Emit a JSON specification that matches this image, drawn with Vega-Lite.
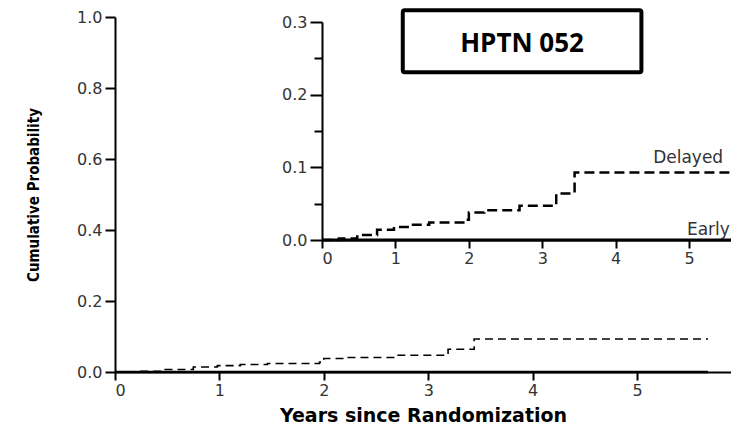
{
  "$schema": "https://vega.github.io/schema/vega-lite/v6.json",
  "width": 616,
  "height": 355,
  "autosize": {"type": "none"},
  "padding": {"left": 115, "top": 17, "right": 0, "bottom": 56},
  "background": "white",
  "config": {
    "view": {"stroke": null},
    "axis": {
      "grid": false,
      "domainColor": "black",
      "domainWidth": 2,
      "tickColor": "black",
      "tickWidth": 2,
      "labelFont": "DejaVu Sans",
      "labelFontSize": 16,
      "labelColor": "#333"
    }
  },
  "datasets": {
    "km": [
      {"group": "Delayed", "t": 0, "p": 0},
      {"group": "Delayed", "t": 0.23, "p": 0.002},
      {"group": "Delayed", "t": 0.48, "p": 0.007},
      {"group": "Delayed", "t": 0.75, "p": 0.014},
      {"group": "Delayed", "t": 0.98, "p": 0.018},
      {"group": "Delayed", "t": 1.2, "p": 0.021},
      {"group": "Delayed", "t": 1.46, "p": 0.024},
      {"group": "Delayed", "t": 1.96, "p": 0.028},
      {"group": "Delayed", "t": 2.0, "p": 0.038},
      {"group": "Delayed", "t": 2.21, "p": 0.041},
      {"group": "Delayed", "t": 2.69, "p": 0.047},
      {"group": "Delayed", "t": 3.19, "p": 0.064},
      {"group": "Delayed", "t": 3.44, "p": 0.093},
      {"group": "Delayed", "t": 5.68, "p": 0.093},
      {"group": "Early", "t": 0, "p": 0},
      {"group": "Early", "t": 5.68, "p": 0}
    ],
    "labels": [
      {"label": "Delayed", "t": 4.51, "p": 0.106},
      {"label": "Early", "t": 4.97, "p": 0.007}
    ],
    "box": [
      {"label": "HPTN 052", "t": 1.1, "t2": 4.35, "p": 0.231, "p2": 0.316, "tc": 2.725, "pc": 0.2586}
    ]
  },
  "resolve": {"scale": {"x": "independent", "y": "independent"}},
  "layer": [
    {
      "data": {"name": "km"},
      "encoding": {
        "x": {
          "field": "t", "type": "quantitative",
          "scale": {"domain": [0, 5.9], "nice": false, "zero": false},
          "axis": {
            "values": [0, 1, 2, 3, 4, 5], "format": "d",
            "labelFont": "DejaVu Sans", "labelFontSize": 16, "labelColor": "#333",
            "title": "Years since Randomization",
            "titleFont": "DejaVu Sans", "titleFontSize": 19, "titleFontWeight": "bold", "titleColor": "black",
            "tickSize": 8, "labelPadding": 2, "titlePadding": 8
          }
        },
        "y": {
          "field": "p", "type": "quantitative",
          "scale": {"domain": [0, 1], "nice": false},
          "axis": {
            "values": [0, 0.2, 0.4, 0.6, 0.8, 1], "format": ".1f",
            "labelFont": "DejaVu Sans", "labelFontSize": 16, "labelColor": "#333",
            "title": "Cumulative Probability",
            "titleFont": "DejaVu Sans Condensed, Roboto Condensed, Liberation Sans Narrow, Roboto, sans-serif",
            "titleFontSize": 15, "titleFontWeight": "bold", "titleColor": "black",
            "tickSize": 10, "labelPadding": 3, "titlePadding": 35
          }
        }
      },
      "layer": [
        {
          "transform": [{"filter": "datum.group === 'Delayed'"}],
          "mark": {"type": "line", "interpolate": "step-after", "color": "black", "strokeWidth": 1.6, "strokeDash": [8, 5]}
        },
        {
          "transform": [{"filter": "datum.group === 'Early'"}],
          "mark": {"type": "line", "interpolate": "step-after", "color": "black", "strokeWidth": 2.5}
        }
      ]
    },
    {
      "encoding": {
        "x": {
          "field": "t", "type": "quantitative",
          "scale": {"domain": [0, 5.57], "range": [207, 616], "nice": false, "zero": false},
          "axis": {
            "orient": "bottom", "offset": -132,
            "values": [0, 1, 2, 3, 4, 5], "format": "d",
            "labelFont": "DejaVu Sans", "labelFontSize": 16, "labelColor": "#333",
            "title": null, "tickSize": 8, "labelPadding": 2
          }
        },
        "y": {
          "field": "p", "type": "quantitative",
          "scale": {"domain": [0, 0.3], "range": [223, 5], "nice": false},
          "axis": {
            "orient": "left", "offset": -207,
            "values": [0, 0.05, 0.1, 0.15, 0.2, 0.25, 0.3],
            "labelExpr": "round(datum.value*100) % 10 == 0 ? format(datum.value, '.1f') : ''",
            "labelFont": "DejaVu Sans", "labelFontSize": 16, "labelColor": "#333",
            "title": null,
            "tickSize": {"condition": {"test": "round(datum.value*100) % 10 == 0", "value": 12}, "value": 8},
            "labelPadding": 3
          }
        }
      },
      "layer": [
        {
          "data": {"name": "km"},
          "transform": [{"filter": "datum.group === 'Delayed'"}],
          "mark": {"type": "line", "interpolate": "step-after", "color": "black", "strokeWidth": 2.5, "strokeDash": [10, 5]}
        },
        {
          "data": {"name": "km"},
          "transform": [{"filter": "datum.group === 'Early'"}],
          "mark": {"type": "line", "interpolate": "step-after", "color": "black", "strokeWidth": 3}
        },
        {
          "data": {"name": "labels"},
          "mark": {"type": "text", "align": "left", "baseline": "alphabetic", "font": "DejaVu Sans", "fontSize": 17, "color": "#333"},
          "encoding": {"text": {"field": "label"}}
        },
        {
          "data": {"name": "box"},
          "mark": {"type": "rect", "fill": "white", "stroke": "black", "strokeWidth": 4, "cornerRadius": 2},
          "encoding": {
            "x2": {"field": "t2"},
            "y2": {"field": "p2"}
          }
        },
        {
          "data": {"name": "box"},
          "mark": {"type": "text", "align": "center", "baseline": "alphabetic", "font": "Open Sans", "fontSize": 26, "fontWeight": "bold", "color": "black"},
          "encoding": {
            "x": {"field": "tc", "type": "quantitative"},
            "y": {"field": "pc", "type": "quantitative"},
            "text": {"field": "label"}
          }
        }
      ]
    }
  ]
}
